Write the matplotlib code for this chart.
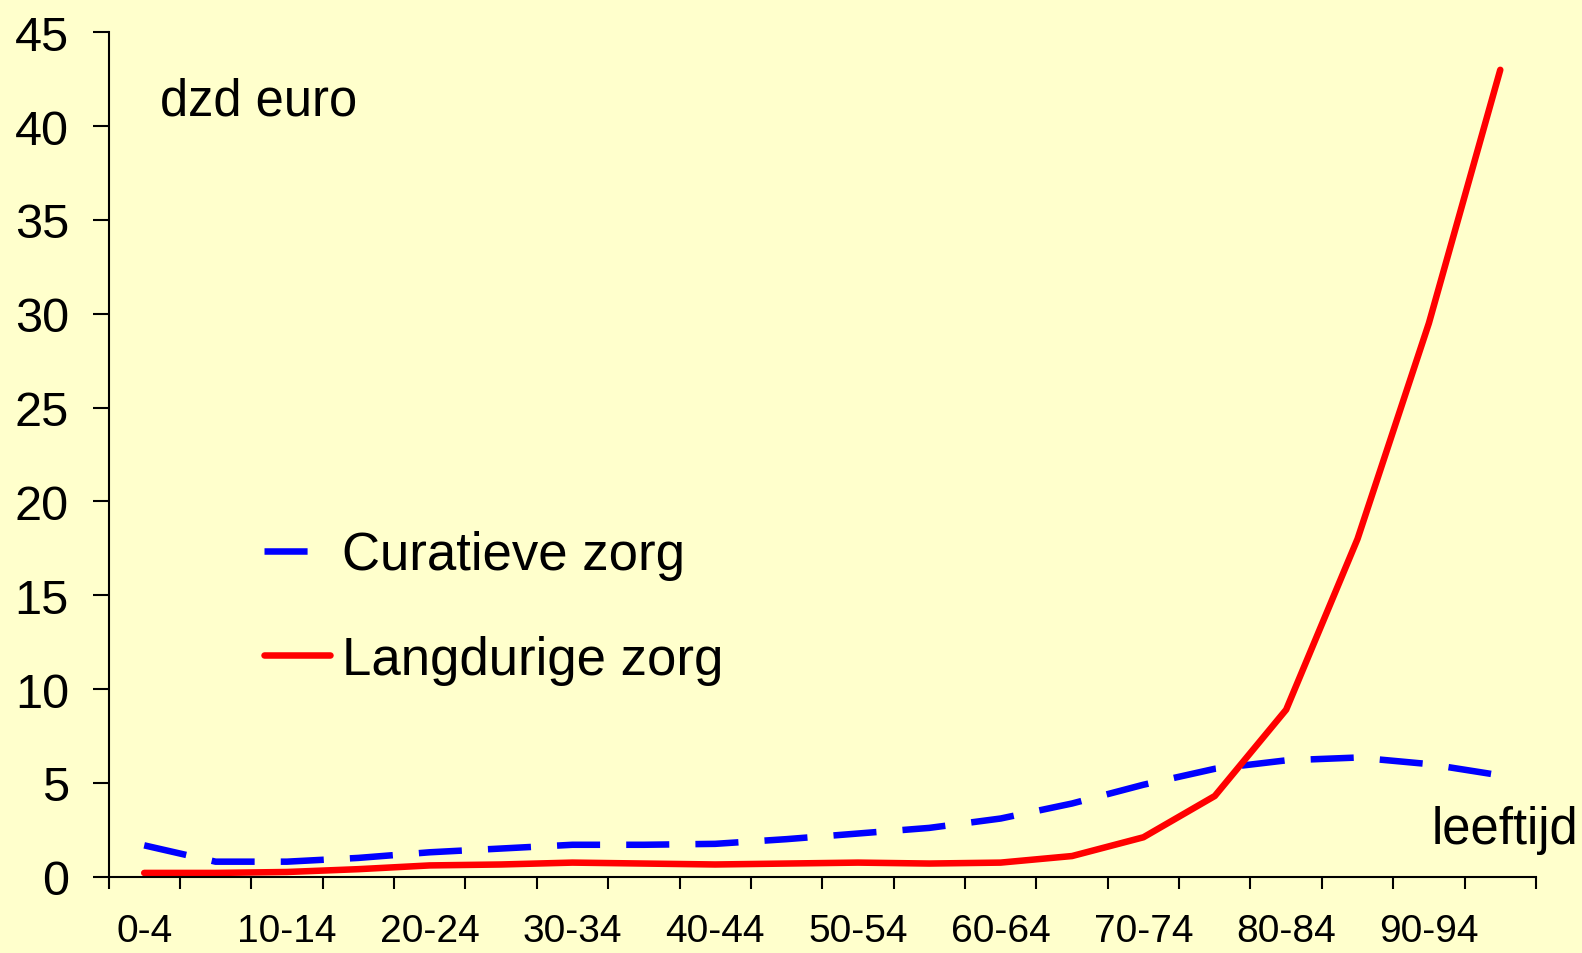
import matplotlib.pyplot as plt
import numpy as np

# zorgkosten per leeftijdsgroep (dzd euro)
age_groups = ["0-4", "5-9", "10-14", "15-19", "20-24", "25-29", "30-34", "35-39",
              "40-44", "45-49", "50-54", "55-59", "60-64", "65-69", "70-74", "75-79",
              "80-84", "85-89", "90-94", "95-99"]
curatieve = [1.67, 0.8, 0.8, 1.0, 1.3, 1.5, 1.7, 1.7, 1.75, 2.0,
             2.3, 2.6, 3.1, 3.9, 4.9, 5.75, 6.2, 6.35, 6.0, 5.4]
langdurige = [0.2, 0.2, 0.25, 0.4, 0.6, 0.65, 0.75, 0.7, 0.65, 0.7,
              0.75, 0.7, 0.75, 1.1, 2.1, 4.3, 8.9, 18.0, 29.5, 43.0]
tick_labels = age_groups[::2][:10]

bg = "#FFFFCC"
plt.rcParams['font.family'] = ['Liberation Sans', 'DejaVu Sans']

fig = plt.figure(figsize=(15.82, 9.54), dpi=100, facecolor=bg)
ax = fig.add_axes([0.0686, 0.0800, 0.9023, 0.8851])
ax.set_facecolor(bg)

x = np.arange(len(age_groups)) + 0.5
lc, = ax.plot(x, curatieve, color="#0000FF", lw=4.7, label="Curatieve zorg",
              solid_capstyle='butt', dash_capstyle='butt')
lc.set_dashes([6.6, 4.0])
ax.plot(x, langdurige, color="#FF0000", lw=4.7, label="Langdurige zorg",
        solid_capstyle='round')

ax.set_xlim(0, len(age_groups))
ax.set_ylim(0, 45)
ax.set_yticks(range(0, 46, 5))
ax.tick_params(axis='y', labelsize=35, length=11.5, width=1.5, pad=17, direction='out')

ax.set_xticks(np.arange(0, len(age_groups) + 1))
ax.set_xticklabels([])
ax.set_xticks(x[::2], tick_labels, minor=True)
ax.tick_params(axis='x', which='major', length=8.6, width=1.5, direction='out')
ax.tick_params(axis='x', which='minor', length=0, labelsize=28, pad=26)

for s in ['top', 'right']:
    ax.spines[s].set_visible(False)
for s in ['left', 'bottom']:
    ax.spines[s].set_linewidth(1.5)

ax.text(160 / 1582, 1 - 115 / 954, "dzd euro", transform=fig.transFigure,
        fontsize=36.5, ha='left', va='baseline')
ax.text(1578 / 1582, 1 - 844 / 954, "leeftijd", transform=fig.transFigure,
        fontsize=36.5, ha='right', va='baseline')

ax.legend(loc='upper left', bbox_to_anchor=(0.109, 0.41), frameon=False,
          fontsize=38, handlelength=1.25, handletextpad=0.23, labelspacing=1.03,
          borderpad=0, borderaxespad=0)

fig.savefig("out.png", dpi=100, facecolor=bg)
